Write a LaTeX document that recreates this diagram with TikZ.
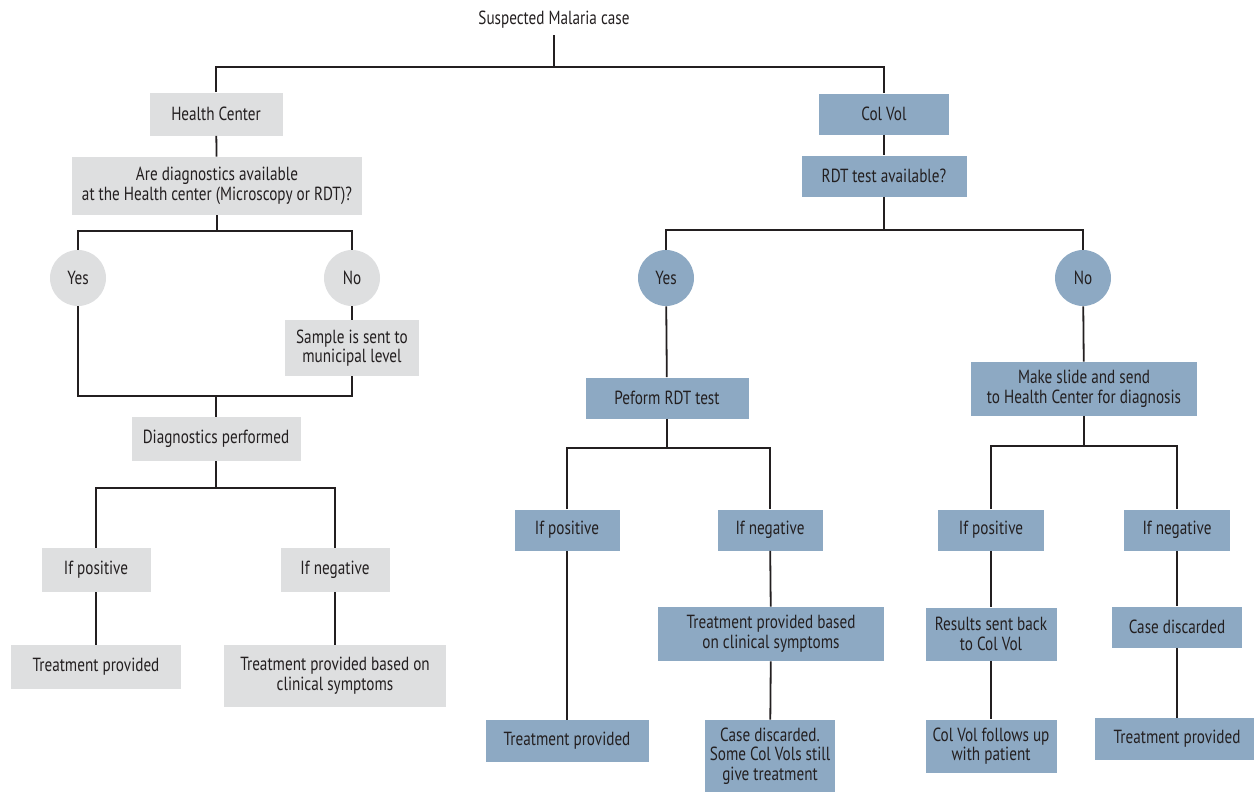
\documentclass[tikz,border=0pt]{standalone}
\usepackage{fontspec}
\setmainfont{PT Sans}[FakeStretch=0.8]
\definecolor{boxgray}{HTML}{DEDFE0}
\definecolor{boxblue}{HTML}{8DA9C3}
\definecolor{ink}{HTML}{231F20}
\begin{document}
\begin{tikzpicture}[x=0.5pt,y=-0.5pt,
  every node/.style={font=\fontsize{9.5}{9.8}\selectfont,text=ink,
    align=center,inner sep=0pt},
  gbox/.style={fill=boxgray},
  bbox/.style={fill=boxblue},
  gdot/.style={circle,fill=boxgray,minimum size=28pt},
  bdot/.style={circle,fill=boxblue,minimum size=28pt},
  link/.style={draw=ink,line width=0.9pt}]
\useasboundingbox (0,0) rectangle (1254,793);
% top
\node[inner ysep=3pt] (title) at (554,20) {Suspected Malaria case};
\coordinate (top) at (554,67);
% health center side
\node[gbox,minimum width=66.5pt,minimum height=21.5pt] (hc) at (216,114) {Health Center};
\node[gbox,minimum width=145pt,minimum height=29pt] (avail) at (217,186)
  {Are diagnostics available\\at the Health center (Microscopy or RDT)?};
\coordinate (lsplit) at (217,231);
\node[gdot] (lyes) at (78,278) {Yes};
\node[gdot] (lno) at (352,278) {No};
\node[gbox,minimum width=67pt,minimum height=28pt] (sample) at (352,348)
  {Sample is sent to\\municipal level};
\coordinate (ljoin) at (216,396);
\node[gbox,minimum width=84.5pt,minimum height=22pt] (diag) at (216,439) {Diagnostics performed};
\coordinate (ldiag) at (216,488);
\node[gbox,minimum width=54.5pt,minimum height=22pt] (lpos) at (96,570) {If positive};
\node[gbox,minimum width=54.5pt,minimum height=22pt] (lneg) at (335,570) {If negative};
\node[gbox,minimum width=85pt,minimum height=22pt] (ltreat) at (96,667) {Treatment provided};
\node[gbox,minimum width=111pt,minimum height=31pt] (lclin) at (335,676)
  {Treatment provided based on\\clinical symptoms};
% col vol side
\node[bbox,minimum width=65pt,minimum height=20.5pt] (cv) at (884,114) {Col Vol};
\node[bbox,minimum width=82.5pt,minimum height=20.5pt] (rdt) at (884,176) {RDT test available?};
\coordinate (rsplit) at (884,230);
\node[bdot] (ryes) at (666,278) {Yes};
\node[bdot] (rno) at (1083,278) {No};
\node[bbox,minimum width=81.5pt,minimum height=20.5pt] (perform) at (667,398) {Peform RDT test};
\coordinate (rperf) at (667,448);
\node[bbox,minimum width=52.5pt,minimum height=20.5pt] (rpos1) at (567,530) {If positive};
\node[bbox,minimum width=52.5pt,minimum height=20.5pt] (rneg1) at (770,530) {If negative};
\node[bbox,minimum width=113pt,minimum height=27pt] (rclin) at (771,634)
  {Treatment provided based\\on clinical symptoms};
\node[bbox,minimum width=81.5pt,minimum height=21pt] (rtreat1) at (567,741) {Treatment provided};
\node[bbox,minimum width=65pt,minimum height=36pt] (rdisc1) at (770,756)
  {Case discarded.\\Some Col Vols still\\give treatment};
\node[bbox,minimum width=113pt,minimum height=27pt] (slide) at (1084,389)
  {Make slide and send\\to Health Center for diagnosis};
\coordinate (rslide) at (1084,446);
\node[bbox,minimum width=53pt,minimum height=20.5pt] (rpos2) at (991,530) {If positive};
\node[bbox,minimum width=53pt,minimum height=20.5pt] (rneg2) at (1177,530) {If negative};
\node[bbox,minimum width=65.5pt,minimum height=26.5pt] (rback) at (991,634)
  {Results sent back\\to Col Vol};
\node[bbox,minimum width=65pt,minimum height=20.5pt] (rdisc2) at (1177,627) {Case discarded};
\node[bbox,minimum width=65.5pt,minimum height=26.5pt] (rfollow) at (991,746)
  {Col Vol follows up\\with patient};
\node[bbox,minimum width=82pt,minimum height=21pt] (rtreat2) at (1177,739) {Treatment provided};
% connectors
\draw[link] (title) -- (top);
\draw[link] (hc) |- (top) -| (cv);
\draw[link] (hc) -- (avail);
\draw[link] (avail) -- (lsplit);
\draw[link] (lyes) |- (lsplit) -| (lno);
\draw[link] (lno) -- (sample);
\draw[link] (lyes) |- (ljoin) -| (sample);
\draw[link] (ljoin) -- (diag);
\draw[link] (diag) -- (ldiag);
\draw[link] (lpos) |- (ldiag) -| (lneg);
\draw[link] (lpos) -- (ltreat);
\draw[link] (lneg) -- (lclin);
\draw[link] (cv) -- (rdt);
\draw[link] (rdt) -- (rsplit);
\draw[link] (ryes) |- (rsplit) -| (rno);
\draw[link] (ryes) -- (perform);
\draw[link] (rno) -- (slide);
\draw[link] (perform) -- (rperf);
\draw[link] (rpos1) |- (rperf) -| (rneg1);
\draw[link] (rpos1) -- (rtreat1);
\draw[link] (rneg1) -- (rclin);
\draw[link] (rclin) -- (rdisc1);
\draw[link] (slide) -- (rslide);
\draw[link] (rpos2) |- (rslide) -| (rneg2);
\draw[link] (rpos2) -- (rback);
\draw[link] (rback) -- (rfollow);
\draw[link] (rneg2) -- (rdisc2);
\draw[link] (rdisc2) -- (rtreat2);
\end{tikzpicture}
\end{document}
